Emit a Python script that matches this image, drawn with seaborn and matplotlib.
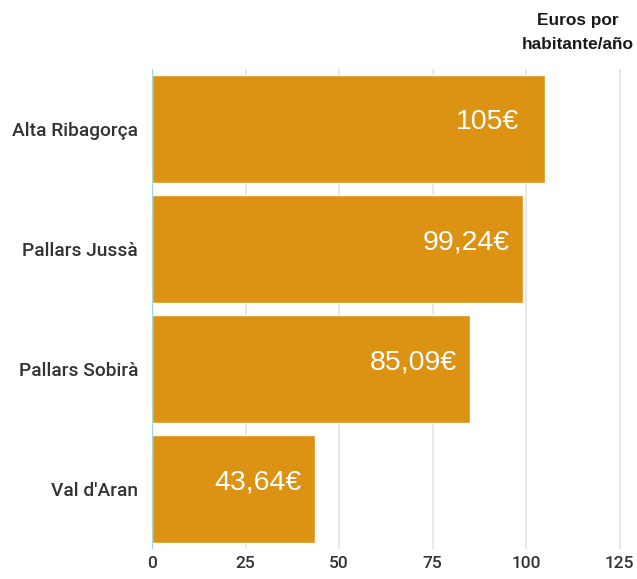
import matplotlib
matplotlib.use("Agg")
import matplotlib.pyplot as plt
import seaborn as sns
import pandas as pd

regions = ["Alta Ribagorça", "Pallars Jussà", "Pallars Sobirà", "Val d'Aran"]
values = [105, 99.24, 85.09, 43.64]
value_labels = ["105€", "99,24€", "85,09€", "43,64€"]
xticks = [0, 25, 50, 75, 100, 125]
title = "Euros por\nhabitante/año"

sns.set_theme(style="white")
plt.rcParams["font.family"] = ["Roboto", "DejaVu Sans"]

df = pd.DataFrame({"region": regions, "value": values})

fig = plt.figure(figsize=(6.37, 5.79), dpi=100)
ax = fig.add_axes([0.2386, 0.0518, 0.7434, 0.8290])

ax.set_axisbelow(True)
for t in xticks:
    ax.axvline(t, color="#e8e8e8", lw=1.5, zorder=0)

sns.barplot(data=df, x="value", y="region", color="#dc9212", saturation=1,
            width=0.9, ax=ax, zorder=2)
ax.axvline(0, color="#8fd3df", lw=1.2, zorder=3)

for i, (v, lab) in enumerate(zip(values, value_labels)):
    ax.annotate(lab, xy=(v, i), xytext=(-41, 5), textcoords="offset points",
                ha="center", va="center", color="white", fontsize=20.5,
                family=["Liberation Sans", "DejaVu Sans"], zorder=4)

ax.set_xlim(0, 126.6)
ax.set_ylim(3.5, -0.5)
ax.set_xticks(xticks)
ax.set_xticklabels([str(t) for t in xticks])
ax.set_xlabel("")
ax.set_ylabel("")
ax.tick_params(axis="both", length=0, colors="#333333")
ax.tick_params(axis="x", pad=5, labelsize=12.5)
ax.tick_params(axis="y", pad=10, labelsize=13.8)
for lbl in ax.get_xticklabels() + ax.get_yticklabels():
    lbl.set_fontweight("medium")
for s in ax.spines.values():
    s.set_visible(False)
ax.grid(False)

fig.text(0.907, 0.977, title, ha="center", va="top", fontsize=12.4,
         fontweight="bold", color="#1a1a1a", linespacing=1.75,
         family=["Liberation Sans", "DejaVu Sans"])

fig.savefig("out.png", dpi=100)
